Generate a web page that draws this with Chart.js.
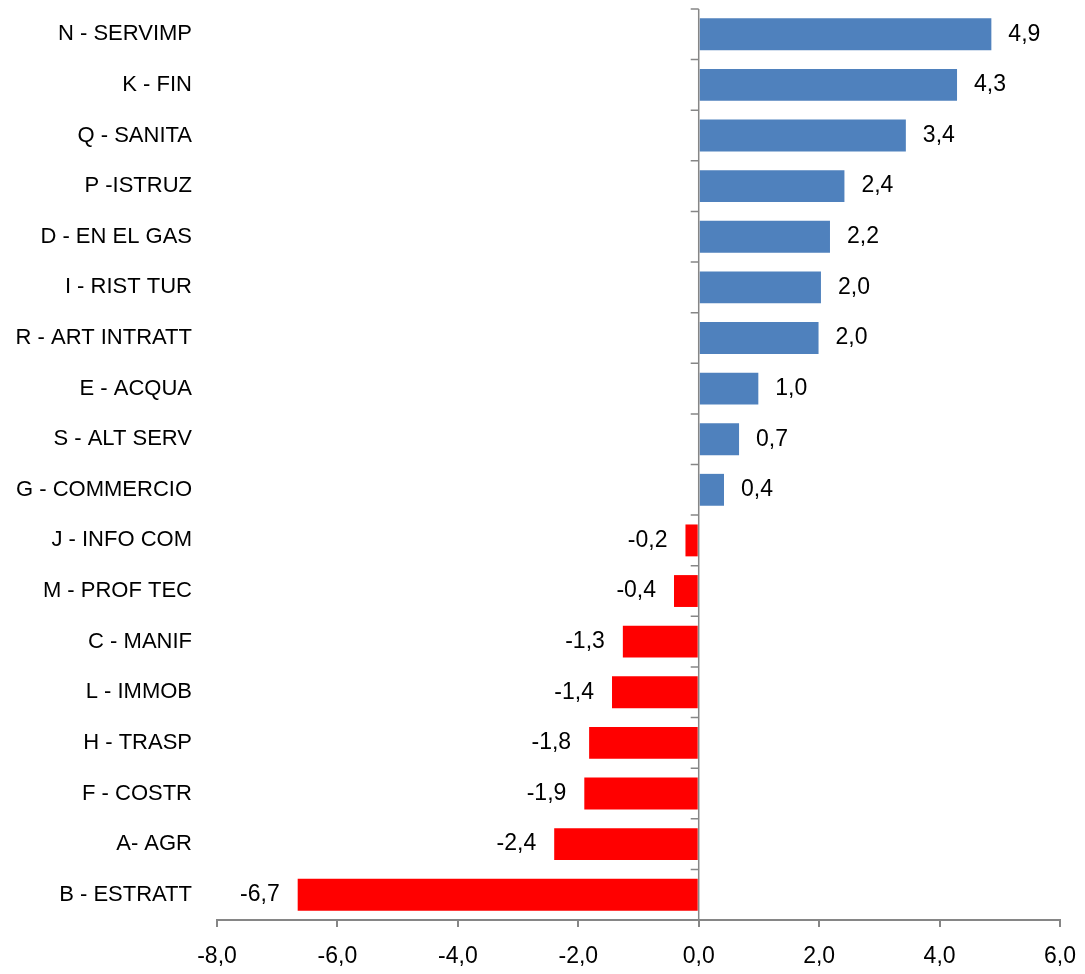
<!DOCTYPE html>
<html lang="it">
<head>
  <meta charset="UTF-8">
  <title>Variazione per settore</title>
  <script src="https://cdn.jsdelivr.net/npm/chart.js"></script>
  <style>
    html, body { margin: 0; padding: 0; background: #fff; }
    #wrap { width: 1085px; height: 974px; }
  </style>
</head>
<body>
  <div id="wrap"><canvas id="chart"></canvas></div>
  <script>
    const sectors = [
      'N - SERVIMP', 'K - FIN', 'Q - SANITA', 'P -ISTRUZ', 'D - EN EL GAS',
      'I - RIST TUR', 'R - ART INTRATT', 'E - ACQUA', 'S - ALT SERV', 'G - COMMERCIO',
      'J - INFO COM', 'M - PROF TEC', 'C - MANIF', 'L - IMMOB', 'H - TRASP',
      'F - COSTR', 'A- AGR', 'B - ESTRATT'
    ];
    // labels show them rounded to one decimal
    const changes = [4.86, 4.29, 3.44, 2.42, 2.18, 2.03, 1.99, 0.99, 0.67, 0.42,
                     -0.22, -0.41, -1.26, -1.44, -1.82, -1.9, -2.4, -6.66];
    const xTicks = [-8, -6, -4, -2, 0, 2, 4, 6];

    const BLUE = '#4F81BD';
    const RED = '#FF0000';
    const AXIS = '#868686';
    const FAMILY = "'Liberation Sans', Arial, sans-serif";
    const LABEL_FONT = { family: FAMILY, size: 22 };
    const NUM_FONT = { family: FAMILY, size: 23 };

    const fmt = v => v.toFixed(1).replace('.', ',');

    // zero line with small ticks between categories, plus value labels
    const extras = {
      id: 'extras',
      afterDatasetsDraw(chart) {
        const { ctx, chartArea, scales } = chart;
        const x = scales.x, y = scales.y;
        const x0 = x.getPixelForValue(0);
        const step = y.getPixelForTick(1) - y.getPixelForTick(0);

        ctx.save();
        ctx.strokeStyle = AXIS;
        ctx.lineWidth = 1.5;
        ctx.beginPath();
        ctx.moveTo(x0, chartArea.top);
        ctx.lineTo(x0, chartArea.bottom);
        for (let i = 0; i <= sectors.length; i++) {
          const yy = y.getPixelForTick(0) - step / 2 + i * step;
          ctx.moveTo(x0 - 8, yy);
          ctx.lineTo(x0, yy);
        }
        ctx.stroke();

        ctx.font = `${NUM_FONT.size}px ${NUM_FONT.family}`;
        ctx.fillStyle = '#000';
        ctx.textBaseline = 'middle';
        const meta = chart.getDatasetMeta(0);
        meta.data.forEach((bar, i) => {
          const v = changes[i];
          if (v >= 0) {
            ctx.textAlign = 'left';
            ctx.fillText(fmt(v), bar.x + 17, bar.y);
          } else {
            ctx.textAlign = 'right';
            ctx.fillText(fmt(v), bar.x - 18, bar.y);
          }
        });
        ctx.restore();
      }
    };

    new Chart(document.getElementById('chart'), {
      type: 'bar',
      data: {
        labels: sectors,
        datasets: [{
          data: changes,
          backgroundColor: changes.map(v => v >= 0 ? BLUE : RED),
          borderWidth: 0,
          categoryPercentage: 1,
          barPercentage: 0.63
        }]
      },
      options: {
        indexAxis: 'y',
        responsive: true,
        maintainAspectRatio: false,
        animation: false,
        layout: { padding: { top: 9, right: 25, bottom: 0, left: 0 } },
        plugins: { legend: { display: false }, tooltip: { enabled: false } },
        scales: {
          x: {
            min: xTicks[0],
            max: xTicks[xTicks.length - 1],
            afterBuildTicks: s => { s.ticks = xTicks.map(v => ({ value: v })); },
            ticks: { callback: v => fmt(v), color: '#000', font: NUM_FONT, padding: 16, maxRotation: 0 },
            grid: { drawOnChartArea: false, drawTicks: true, tickLength: 7, color: AXIS, lineWidth: 2 },
            border: { color: AXIS, width: 2 },
            afterFit: s => { s.height = 54; s.paddingLeft = 0; s.paddingRight = 0; }
          },
          y: {
            ticks: { color: '#000', font: LABEL_FONT, padding: 25, autoSkip: false },
            grid: { display: false, drawTicks: false },
            border: { display: false },
            afterFit: s => { s.width = 217; s.paddingTop = 0; s.paddingBottom = 0; }
          }
        }
      },
      plugins: [extras]
    });
  </script>
</body>
</html>
